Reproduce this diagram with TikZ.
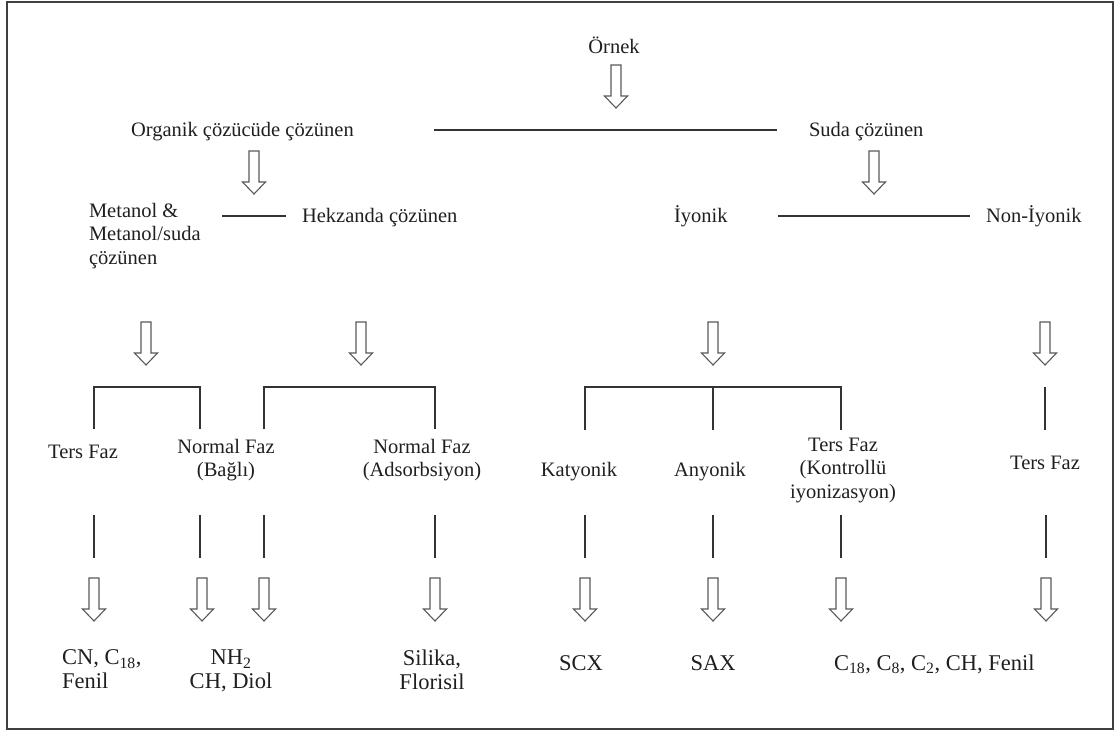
\documentclass[tikz,border=0pt]{standalone}
\usepackage{fontspec}
\setmainfont{Liberation Serif}
\newcommand\txtfont{\fontsize{20.5}{23.5}\selectfont}
\newcommand\bigtxtfont{\fontsize{22.5}{24}\selectfont}
\begin{document}
\begin{tikzpicture}[x=1pt,y=-1pt,
  every node/.style={inner sep=0pt, outer sep=0pt, font=\txtfont, text=black!88},
  lbl/.style={anchor=base},
  lblw/.style={anchor=base west},
  btm/.style={font=\bigtxtfont},
  conn/.style={draw=black!80, line width=1.3pt},
  frame/.style={draw=black!75, line width=1.8pt},
  darr/.pic={\draw[draw=black!65, line width=1.1pt, line join=miter]
     (-5,0) -- (5,0) -- (5,31) -- (11.5,31) -- (0,43) -- (-11.5,31) -- (-5,31) -- cycle;}
]
\useasboundingbox (0,0) rectangle (1115,731);
\draw[frame] (7,2) rectangle (1113,729);

% ---- text nodes
\node[lbl]  (ornek) at (614,53) {Örnek};
\node[lblw] (org)   at (131,136) {Organik çözücüde çözünen};
\node[lblw] (suda)  at (809,136) {Suda çözünen};
\node[anchor=north west, align=left] (met) at (89,203) {Metanol \&\\Metanol/suda\\çözünen};
\node[lblw] (hekz)  at (302,222) {Hekzanda çözünen};
\node[lblw] (iyon)  at (674,222) {İyonik};
\node[lblw] (noniy) at (986,222) {Non-İyonik};

\node[lbl] (ters1) at (83,458) {Ters Faz};
\node[anchor=north, align=center] (nfb) at (226,439) {Normal Faz\\(Bağlı)};
\node[anchor=north, align=center] (nfa) at (422,439) {Normal Faz\\(Adsorbsiyon)};
\node[lbl] (kat)   at (579,476) {Katyonik};
\node[lbl] (any)   at (710,476) {Anyonik};
\node[anchor=north, align=center] (tfk) at (843,438) {Ters Faz\\(Kontrollü\\iyonizasyon)};
\node[lbl] (ters2) at (1045,469) {Ters Faz};

\node[btm, anchor=north west, align=left] (cn) at (62,650) {CN, C\textsubscript{18},\\Fenil};
\node[btm, anchor=north, align=center] (nh) at (231,650) {NH\textsubscript{2}\\CH, Diol};
\node[btm, anchor=north, align=center] (sil) at (432,650) {Silika,\\Florisil};
\node[btm, lbl] (scx) at (581,670) {SCX};
\node[btm, lbl] (sax) at (713,670) {SAX};
\node[btm, lblw] (cc) at (834,670) {C\textsubscript{18}, C\textsubscript{8}, C\textsubscript{2}, CH, Fenil};

% ---- horizontal connectors
\coordinate (l1a) at (434,130); \coordinate (l1b) at (777,130);
\coordinate (l2a) at (222,216); \coordinate (l2b) at (286,216);
\coordinate (l3a) at (778,216); \coordinate (l3b) at (970,216);
\draw[conn] (l1a) -- (l1b);
\draw[conn] (l2a) -- (l2b);
\draw[conn] (l3a) -- (l3b);

% ---- brackets
\draw[conn] (94,429) -- (94,387) -- (200,387) -- (200,429);
\draw[conn] (264,429) -- (264,387) -- (435,387) -- (435,429);
\draw[conn] (585,430) -- (585,387) -- (841,387) -- (841,430);
\draw[conn] (713,387) -- (713,430);
\draw[conn] (1045,387) -- (1045,430);

% ---- lower vertical lines
\foreach \x in {94,200,264,435,585,713,841,1046}
  \draw[conn] (\x,515) -- (\x,558);

% ---- block arrows
\pic at (616,65) {darr};
\pic at (254,151) {darr};
\pic at (874,151) {darr};
\foreach \x in {146,361,713,1045}
  \pic at (\x,322) {darr};
\foreach \x in {94,202,264,435,585,713,841,1046}
  \pic at (\x,578) {darr};
\end{tikzpicture}
\end{document}
